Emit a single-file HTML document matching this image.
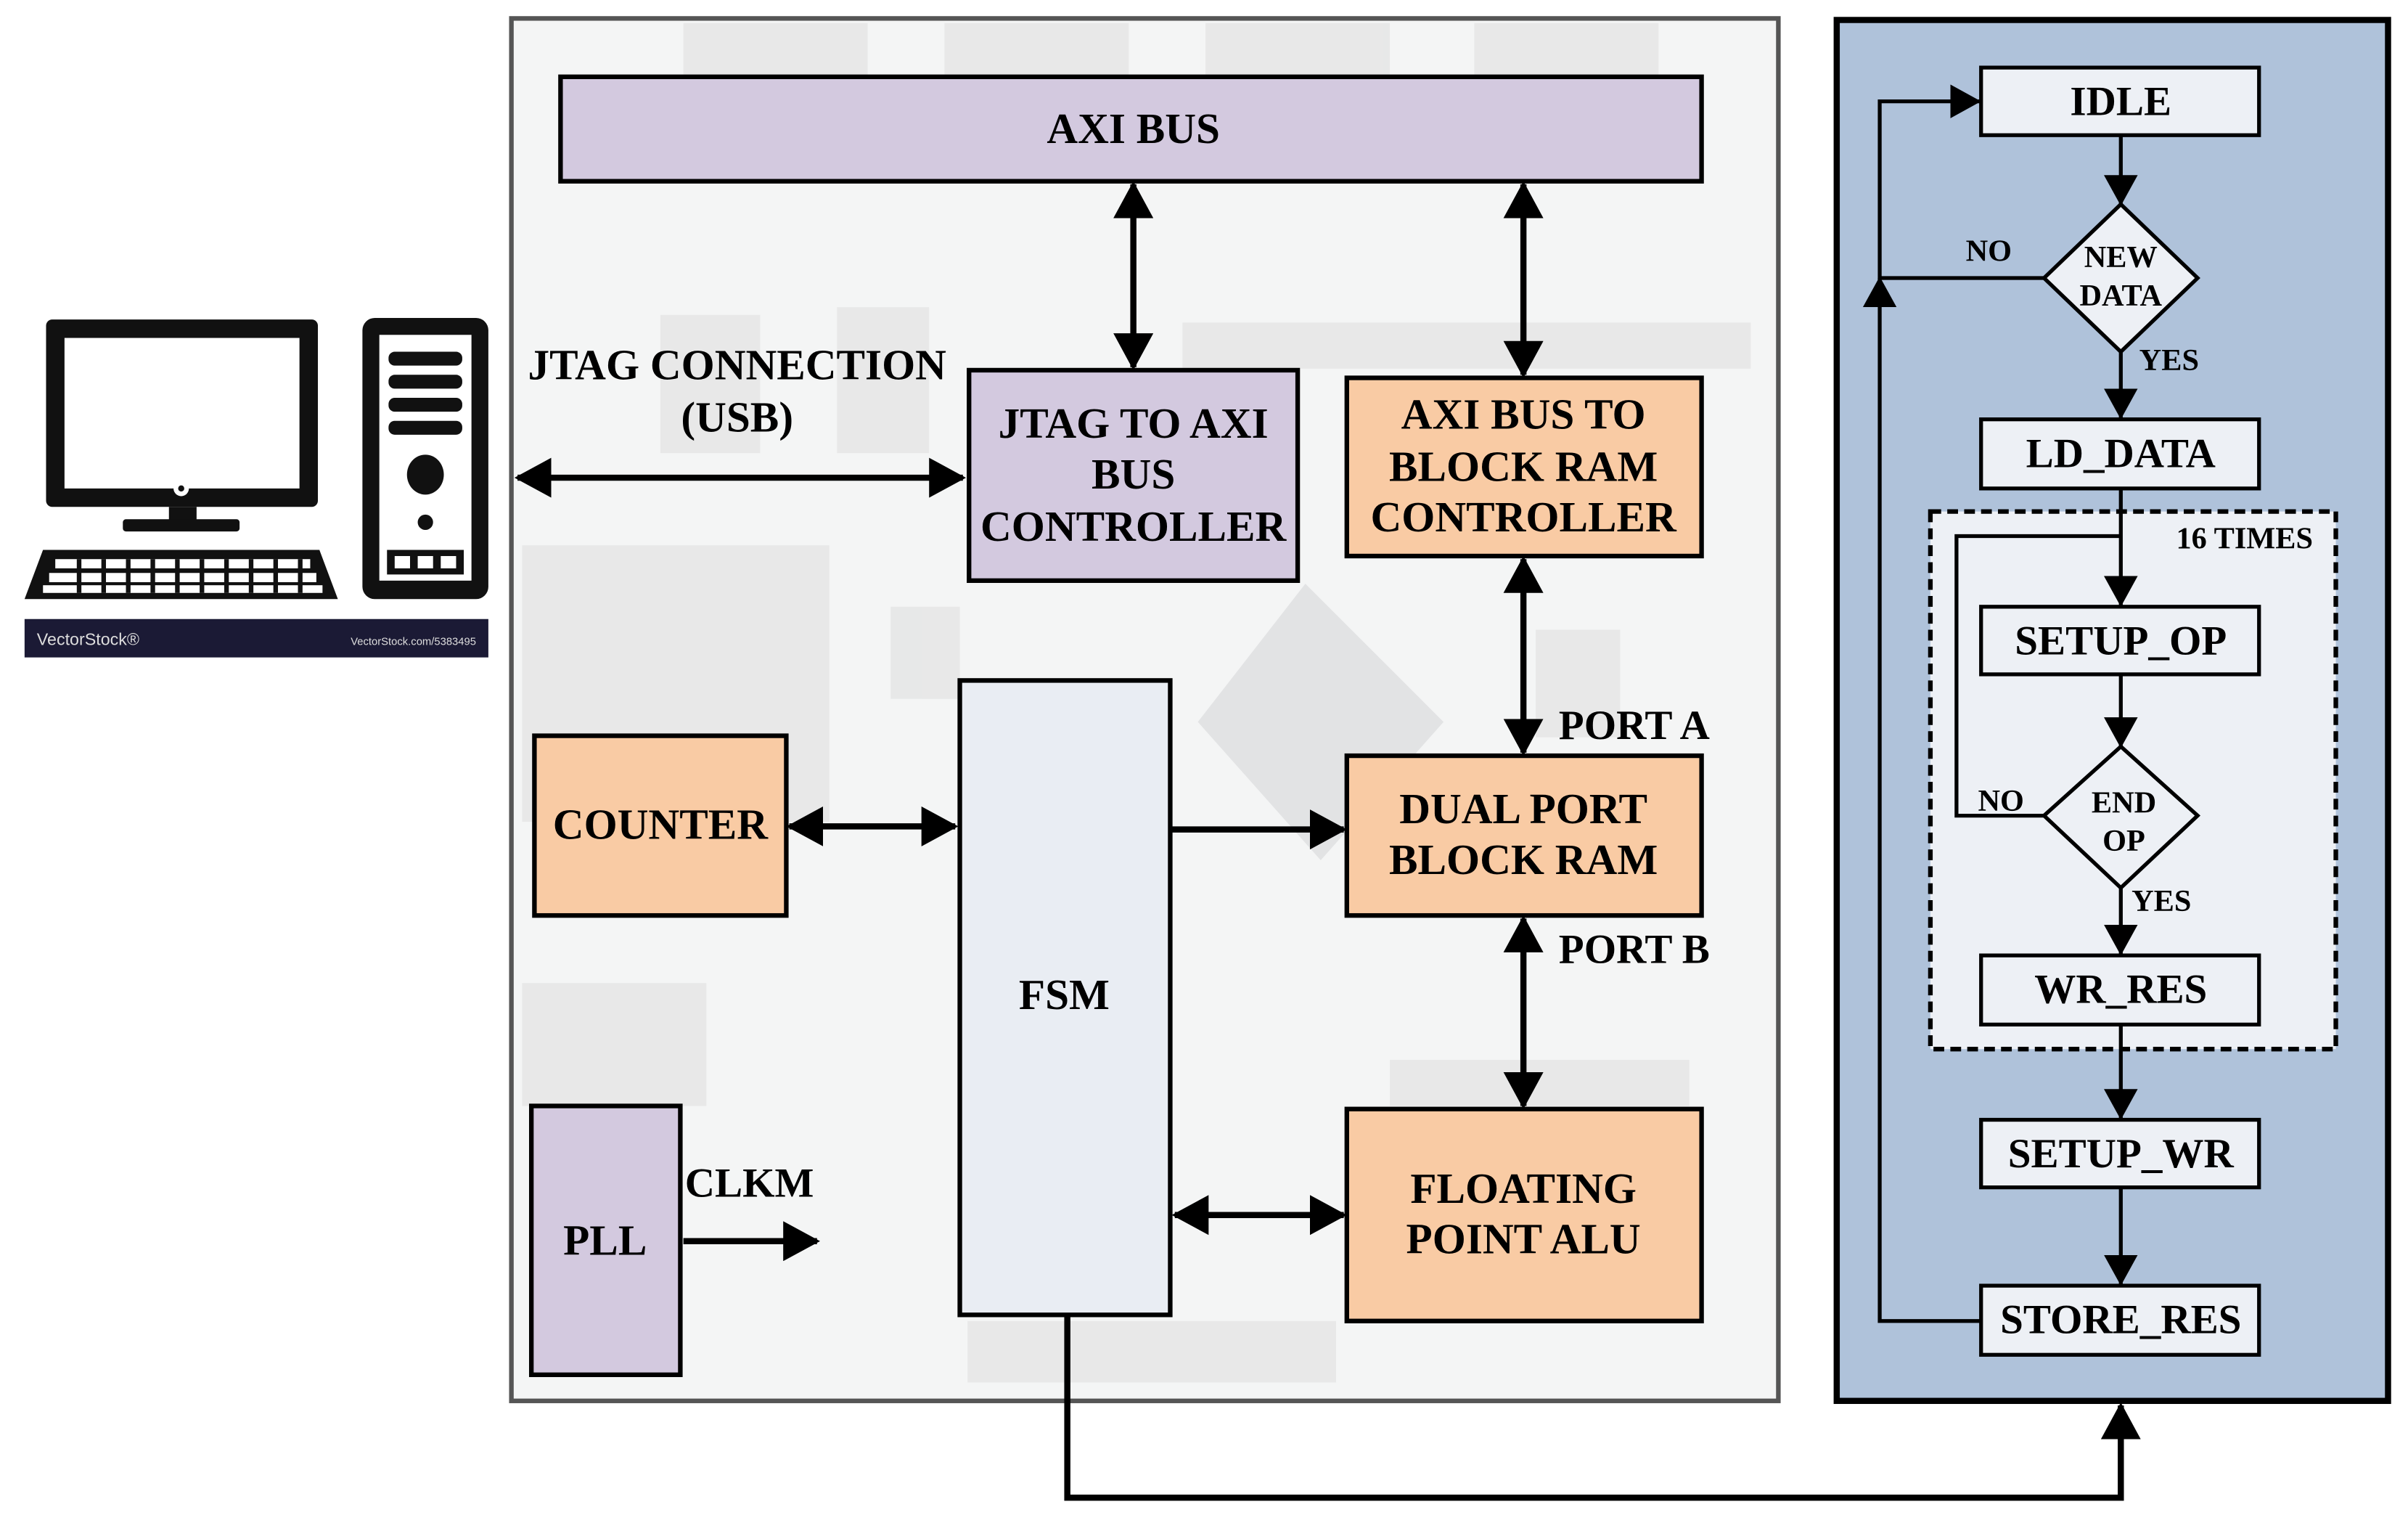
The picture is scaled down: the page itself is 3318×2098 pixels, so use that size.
<!DOCTYPE html>
<html><head><meta charset="utf-8"><style>
html,body{margin:0;padding:0;background:#fff;width:3318px;height:2098px;overflow:hidden}
svg{display:block}
</style></head><body>
<svg width="3318" height="2098" viewBox="0 0 1568 991.5" preserveAspectRatio="none" xmlns="http://www.w3.org/2000/svg" font-family="'Liberation Serif','Times New Roman',Times,serif" font-weight="bold">
<defs>
<marker id="a" markerWidth="24" markerHeight="26" refX="22" refY="13" orient="auto-start-reverse" markerUnits="userSpaceOnUse"><path d="M0,0 L24,13 L0,26 Z" fill="#000"/></marker>
<marker id="s" markerWidth="20" markerHeight="22" refX="19" refY="11" orient="auto-start-reverse" markerUnits="userSpaceOnUse"><path d="M0,0 L20,11 L0,22 Z" fill="#000"/></marker>
</defs>
<rect width="1568" height="991.5" fill="#fff"/>
<!-- computer -->
<rect x="30" y="208" width="177" height="122" rx="4" fill="#111"/>
<rect x="42" y="220" width="153" height="98" fill="#fff"/>
<circle cx="118" cy="318" r="5" fill="#fff"/><circle cx="118" cy="318" r="2" fill="#111"/>
<rect x="110" y="330" width="18" height="10" fill="#111"/>
<rect x="80" y="338" width="76" height="8" rx="2" fill="#111"/>
<path d="M28,358 L208,358 L220,390 L16,390 Z" fill="#111"/>
<g fill="#fff">
<rect x="36" y="364" width="166" height="6"/><rect x="32" y="373" width="174" height="6"/><rect x="28" y="381" width="182" height="5"/>
</g>
<g fill="#111"><rect x="50" y="364" width="3" height="22"/><rect x="66" y="364" width="3" height="22"/><rect x="82" y="364" width="3" height="22"/><rect x="98" y="364" width="3" height="22"/><rect x="114" y="364" width="3" height="22"/><rect x="130" y="364" width="3" height="22"/><rect x="146" y="364" width="3" height="22"/><rect x="162" y="364" width="3" height="22"/><rect x="178" y="364" width="3" height="22"/><rect x="194" y="364" width="3" height="22"/></g>
<rect x="236" y="207" width="82" height="183" rx="8" fill="#111"/>
<rect x="247" y="218" width="60" height="160" fill="#fff"/>
<g fill="#111"><rect x="253" y="229" width="48" height="9" rx="4"/><rect x="253" y="244" width="48" height="9" rx="4"/><rect x="253" y="259" width="48" height="9" rx="4"/><rect x="253" y="274" width="48" height="9" rx="4"/>
<ellipse cx="277" cy="309" rx="12" ry="13"/><circle cx="277" cy="340" r="5"/><rect x="252" y="358" width="50" height="16"/></g>
<g fill="#fff"><rect x="257" y="362" width="10" height="8"/><rect x="272" y="362" width="10" height="8"/><rect x="287" y="362" width="10" height="8"/></g>
<rect x="16" y="403" width="302" height="25" fill="#1b1a35"/>
<text x="24" y="420" font-family="'Liberation Sans',sans-serif" font-weight="normal" font-size="11" fill="#ddd">VectorStock®</text>
<text x="310" y="420" text-anchor="end" font-family="'Liberation Sans',sans-serif" font-weight="normal" font-size="7" fill="#ddd">VectorStock.com/5383495</text>
<!-- middle board panel -->
<rect x="333" y="12" width="825" height="900" fill="#f4f5f5" stroke="#555" stroke-width="3"/>
<g fill="#e2e3e3" opacity="0.7">
<rect x="445" y="15" width="120" height="35"/><rect x="615" y="15" width="120" height="35"/><rect x="785" y="15" width="120" height="35"/><rect x="960" y="15" width="120" height="35"/>
<rect x="430" y="205" width="65" height="90"/><rect x="545" y="200" width="60" height="95"/>
<rect x="340" y="355" width="200" height="180"/><rect x="580" y="395" width="45" height="60"/>
<rect x="340" y="640" width="120" height="80"/><rect x="770" y="210" width="370" height="30"/>
<rect x="905" y="690" width="195" height="30"/><rect x="630" y="860" width="240" height="40"/>
<rect x="1000" y="410" width="55" height="70"/>
</g>
<path d="M850,380 L940,470 L860,560 L780,470 Z" fill="#d5d7d9" opacity="0.6"/>
<!-- blocks -->
<g stroke="#000" stroke-width="3">
<rect x="365" y="50" width="743" height="68" fill="#d3c9df"/>
<rect x="631" y="241" width="214" height="137" fill="#d3c9df"/>
<rect x="877" y="246" width="231" height="116" fill="#f9cba4"/>
<rect x="877" y="492" width="231" height="104" fill="#f9cba4"/>
<rect x="877" y="722" width="231" height="138" fill="#f9cba4"/>
<rect x="625" y="443" width="137" height="413" fill="#e9edf3"/>
<rect x="348" y="479" width="164" height="117" fill="#f9cba4"/>
<rect x="346" y="720" width="97" height="175" fill="#d3c9df"/>
</g>
<g font-size="28" text-anchor="middle">
<text x="738" y="93">AXI BUS</text>
<text x="738" y="285">JTAG TO AXI</text><text x="738" y="318">BUS</text><text x="738" y="352">CONTROLLER</text>
<text x="992" y="279">AXI BUS TO</text><text x="992" y="313">BLOCK RAM</text><text x="992" y="346">CONTROLLER</text>
<text x="992" y="536">DUAL PORT</text><text x="992" y="569">BLOCK RAM</text>
<text x="992" y="783">FLOATING</text><text x="992" y="816">POINT ALU</text>
<text x="693" y="657">FSM</text>
<text x="430" y="546">COUNTER</text>
<text x="394" y="817">PLL</text>
<text x="480" y="247">JTAG CONNECTION</text><text x="480" y="281">(USB)</text>
</g>
<g font-size="27"><text x="1015" y="481">PORT A</text><text x="1015" y="627">PORT B</text><text x="446" y="779">CLKM</text></g>
<g stroke="#000" stroke-width="4" fill="none">
<line x1="738" y1="120" x2="738" y2="239" marker-start="url(#a)" marker-end="url(#a)"/>
<line x1="992" y1="120" x2="992" y2="244" marker-start="url(#a)" marker-end="url(#a)"/>
<line x1="337" y1="311" x2="627" y2="311" marker-start="url(#a)" marker-end="url(#a)"/>
<line x1="992" y1="364" x2="992" y2="490" marker-start="url(#a)" marker-end="url(#a)"/>
<line x1="992" y1="598" x2="992" y2="720" marker-start="url(#a)" marker-end="url(#a)"/>
<line x1="514" y1="538" x2="622" y2="538" marker-start="url(#a)" marker-end="url(#a)"/>
<line x1="763" y1="540" x2="875" y2="540" marker-end="url(#a)"/>
<line x1="765" y1="791" x2="875" y2="791" marker-start="url(#a)" marker-end="url(#a)"/>
<line x1="445" y1="808" x2="532" y2="808" marker-end="url(#a)"/>
<polyline points="695,856 695,975 1381,975 1381,915" marker-end="url(#a)"/>
</g>
<!-- right panel -->
<rect x="1196" y="13" width="359" height="899" fill="#afc2da" stroke="#000" stroke-width="4"/>
<rect x="1257" y="333" width="264" height="350" fill="#edf0f5" stroke="#000" stroke-width="3" stroke-dasharray="7,4"/>
<g stroke="#000" stroke-width="2.5" fill="#edf0f5">
<rect x="1290" y="44" width="181" height="44"/>
<rect x="1290" y="273" width="181" height="45"/>
<rect x="1290" y="395" width="181" height="44"/>
<rect x="1290" y="622" width="181" height="45"/>
<rect x="1290" y="729" width="181" height="44"/>
<rect x="1290" y="837" width="181" height="45"/>
<path d="M1381,133 L1431,181 L1381,229 L1331,181 Z"/>
<path d="M1381,486 L1431,531 L1381,578 L1331,531 Z"/>
</g>
<g stroke="#000" stroke-width="2.5" fill="none">
<line x1="1381" y1="88" x2="1381" y2="133" marker-end="url(#s)"/>
<line x1="1381" y1="229" x2="1381" y2="272" marker-end="url(#s)"/>
<line x1="1381" y1="318" x2="1381" y2="394" marker-end="url(#s)"/>
<line x1="1381" y1="439" x2="1381" y2="486" marker-end="url(#s)"/>
<line x1="1381" y1="578" x2="1381" y2="621" marker-end="url(#s)"/>
<line x1="1381" y1="667" x2="1381" y2="728" marker-end="url(#s)"/>
<line x1="1381" y1="773" x2="1381" y2="836" marker-end="url(#s)"/>
<polyline points="1331,181 1224,181 1224,66 1289,66" marker-end="url(#s)"/>
<polyline points="1290,860 1224,860 1224,181" marker-end="url(#s)"/>
<polyline points="1331,531 1274,531 1274,349 1381,349"/>
</g>
<g font-size="27" text-anchor="middle">
<text x="1381" y="75">IDLE</text>
<text x="1381" y="304">LD_DATA</text>
<text x="1381" y="426">SETUP_OP</text>
<text x="1381" y="653">WR_RES</text>
<text x="1381" y="760">SETUP_WR</text>
<text x="1381" y="868">STORE_RES</text>
</g>
<g font-size="20" text-anchor="middle">
<text x="1381" y="174">NEW</text><text x="1381" y="199">DATA</text>
<text x="1383" y="529">END</text><text x="1383" y="554">OP</text>
</g>
<g font-size="20">
<text x="1280" y="170">NO</text><text x="1393" y="241">YES</text>
<text x="1288" y="528">NO</text><text x="1388" y="593">YES</text>
<text x="1417" y="357">16 TIMES</text>
</g>
</svg>
</body></html>
